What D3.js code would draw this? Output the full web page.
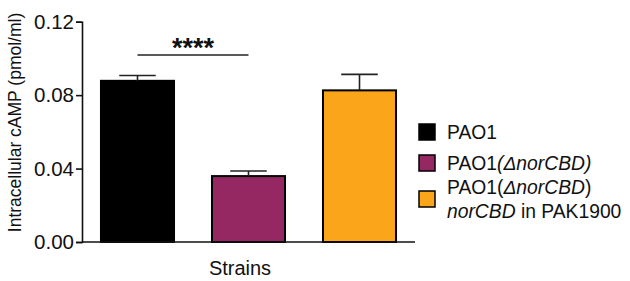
<!DOCTYPE html>
<html>
<head>
<meta charset="utf-8">
<script src="https://cdn.jsdelivr.net/npm/d3@7"></script>
<style>
	body { margin: 0; background: #fff; }
	svg { display: block; font-family: "Liberation Sans", Arial, sans-serif; }
</style>
</head>
<body>
<svg id="chart" width="630" height="281"></svg>
<script>
// data
var strains = ["PAO1", "PAO1(ΔnorCBD)", "PAO1(ΔnorCBD) norCBD in PAK1900"];
var means = [0.0878, 0.0359, 0.0826];
var errors = [0.0029, 0.0028, 0.0087];
var colors = ["#000000", "#952763", "#fba51a"];
var yTicks = [0, 0.04, 0.08, 0.12];

var svg = d3.select("#chart");

var x = d3.scaleBand()
	.domain(strains)
	.range([82, 415])
	.paddingInner(0.342)
	.paddingOuter(0.171);

var y = d3.scaleLinear()
	.domain([0, 0.12])
	.range([242, 21.7]);

// y axis
var yAxis = svg.append("g")
	.attr("transform", "translate(82,0)")
	.call(d3.axisLeft(y).tickValues(yTicks).tickSizeOuter(0).tickSize(6).tickPadding(2)
		.tickFormat(d3.format(".2f")));
yAxis.select(".domain").attr("stroke", "#111").attr("stroke-width", 1.6);
yAxis.selectAll(".tick line").attr("stroke", "#111").attr("stroke-width", 1.6);
yAxis.selectAll(".tick text")
	.attr("font-size", 20.5)
	.attr("font-family", "Liberation Sans, Arial, sans-serif")
	.attr("fill", "#111");

// bars
svg.append("g")
	.selectAll("rect")
	.data(strains)
	.enter().append("rect")
	.attr("x", function (d) { return x(d); })
	.attr("y", function (d, i) { return y(means[i]); })
	.attr("width", x.bandwidth())
	.attr("height", function (d, i) { return y(0) - y(means[i]); })
	.attr("fill", function (d, i) { return colors[i]; })
	.attr("stroke", "#000")
	.attr("stroke-width", 2);

// error bars (upper only)
var err = svg.append("g").attr("stroke", "#222").attr("stroke-width", 1.6);
strains.forEach(function (d, i) {
	var cx = x(d) + x.bandwidth() / 2;
	var half = x.bandwidth() / 4;
	err.append("line")
		.attr("x1", cx).attr("x2", cx)
		.attr("y1", y(means[i])).attr("y2", y(means[i] + errors[i]));
	err.append("line")
		.attr("x1", cx - half).attr("x2", cx + half)
		.attr("y1", y(means[i] + errors[i])).attr("y2", y(means[i] + errors[i]));
});

// x axis line
svg.append("line")
	.attr("x1", 82).attr("x2", 415)
	.attr("y1", y(0)).attr("y2", y(0))
	.attr("stroke", "#111").attr("stroke-width", 1.6);

// significance
var c0 = x(strains[0]) + x.bandwidth() / 2,
	c1 = x(strains[1]) + x.bandwidth() / 2;
svg.append("line")
	.attr("x1", c0).attr("x2", c1)
	.attr("y1", 55).attr("y2", 55)
	.attr("stroke", "#222").attr("stroke-width", 1.6);
svg.append("text")
	.attr("x", (c0 + c1) / 2)
	.attr("y", 57)
	.attr("text-anchor", "middle")
	.attr("font-size", 27)
	.attr("font-weight", "bold")
	.attr("fill", "#111")
	.text("****");

// axis titles
svg.append("text")
	.attr("transform", "translate(21,122.5) rotate(-90)")
	.attr("text-anchor", "middle")
	.attr("font-size", 17.5)
	.attr("fill", "#111")
	.text("Intracellular cAMP (pmol/ml)");
svg.append("text")
	.attr("x", 240)
	.attr("y", 275)
	.attr("text-anchor", "middle")
	.attr("font-size", 20)
	.attr("fill", "#111")
	.text("Strains");

// legend
var legendRows = [
	{ y: 132, lines: [[["PAO1", false]]] },
	{ y: 163, lines: [[["PAO1", false], ["(ΔnorCBD)", true]]] },
	{ y: 199, lines: [[["PAO1(", false], ["ΔnorCBD", true], [")", false]],
		[["norCBD", true], [" in PAK1900", false]]] }
];
var legend = svg.append("g");
legendRows.forEach(function (row, i) {
	legend.append("rect")
		.attr("x", 419).attr("y", row.y - 8)
		.attr("width", 16).attr("height", 16)
		.attr("fill", colors[i])
		.attr("stroke", "#000").attr("stroke-width", 1.5);
	var n = row.lines.length;
	row.lines.forEach(function (parts, j) {
		var t = legend.append("text")
			.attr("x", 447)
			.attr("y", row.y + 7 + (j - (n - 1) / 2) * 24)
			.attr("font-size", 19.3)
			.attr("fill", "#111");
		parts.forEach(function (p) {
			t.append("tspan")
				.attr("font-style", p[1] ? "italic" : "normal")
				.text(p[0]);
		});
	});
});
</script>
</body>
</html>
